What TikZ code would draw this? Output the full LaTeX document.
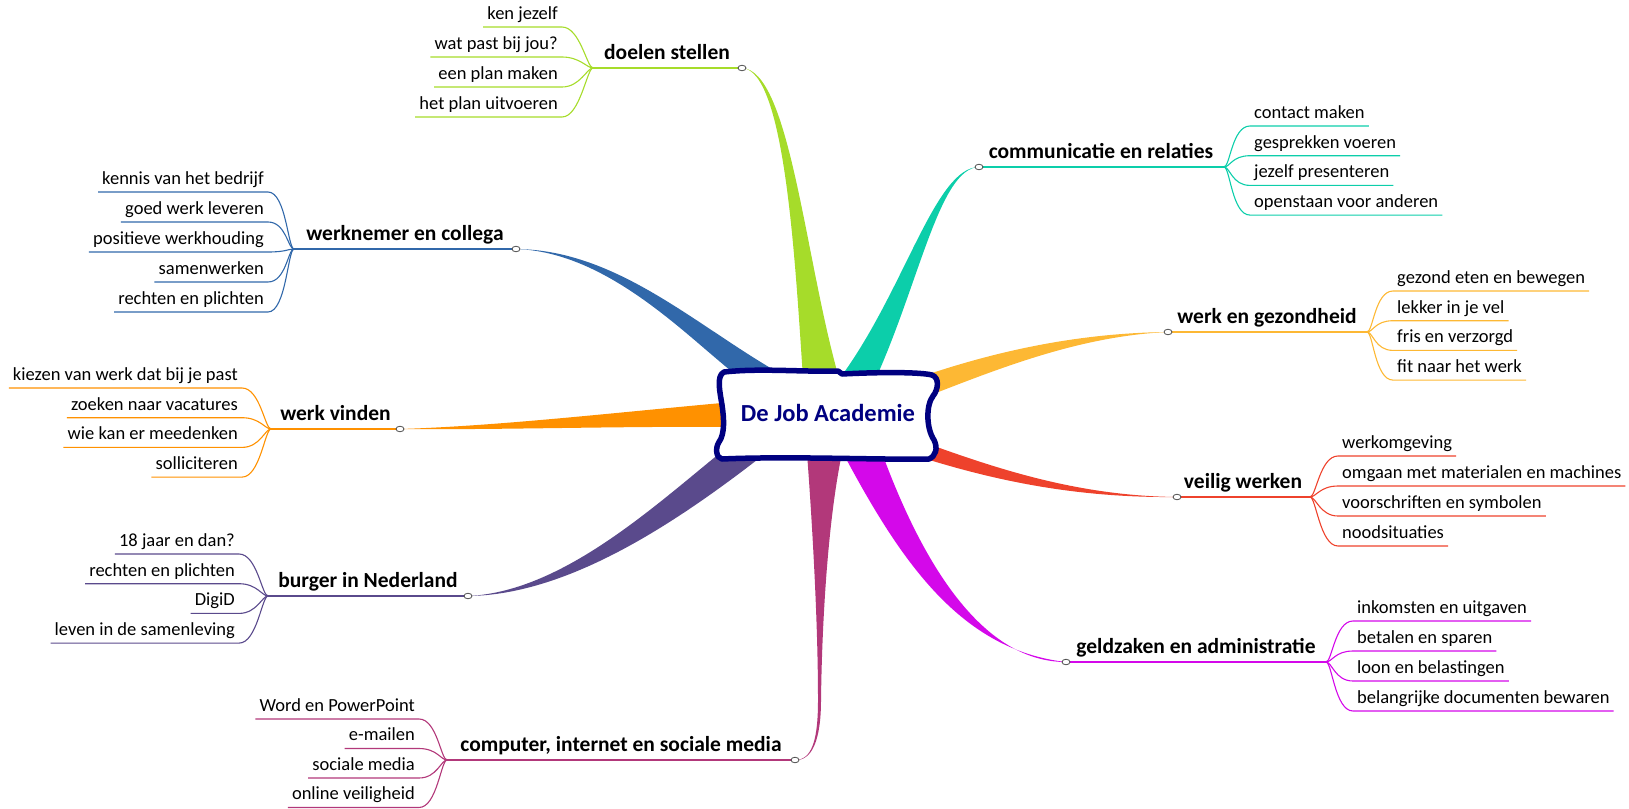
\documentclass[tikz,border=0pt]{standalone}
\usepackage{fontspec}
\setmainfont{Carlito}
\usetikzlibrary{calc,shapes.geometric}

\definecolor{doelcol}{RGB}{166,220,42}
\definecolor{commcol}{RGB}{12,206,170}
\definecolor{werkcol}{RGB}{49,104,170}
\definecolor{gezcol}{RGB}{253,184,52}
\definecolor{vindcol}{RGB}{255,145,0}
\definecolor{veilcol}{RGB}{238,66,44}
\definecolor{burgcol}{RGB}{90,74,140}
\definecolor{geldcol}{RGB}{212,8,234}
\definecolor{compcol}{RGB}{178,56,122}
\definecolor{hubcol}{RGB}{0,0,128}

\tikzset{
  twig/.style={line width=1.1pt},
  knob/.style={ellipse,draw=gray!60!black,fill=white,line width=0.8pt,minimum width=8pt,minimum height=5.5pt,inner sep=0pt},
  topic/.style={font=\fontsize{21.5}{24}\selectfont\bfseries,anchor=base,inner sep=0pt},
  leaf/.style={font=\fontsize{18.5}{20}\selectfont,text height=13pt,text depth=5pt,inner xsep=4pt,inner ysep=2.5pt},
  leafL/.style={leaf,anchor=south east},
  leafR/.style={leaf,anchor=south west},
}

\begin{document}
\begin{tikzpicture}[x=1pt,y=-1pt]
  \useasboundingbox (0,0) rectangle (1629,808);

  % centre, knobs and fan points
  \coordinate (hubpt) at (828,413);
  \coordinate (doelc) at (742,68);   \coordinate (doelj) at (593,68);
  \coordinate (commc) at (979,167);  \coordinate (commj) at (1224,167);
  \coordinate (werkc) at (516,249);  \coordinate (werkj) at (294,249);
  \coordinate (gezc) at (1168,332);  \coordinate (gezj) at (1367,332);
  \coordinate (vindc) at (400,429);  \coordinate (vindj) at (271,429);
  \coordinate (veilc) at (1177,497); \coordinate (veilj) at (1310,497);
  \coordinate (burgc) at (468,596);  \coordinate (burgj) at (268,596);
  \coordinate (geldc) at (1066,662); \coordinate (geldj) at (1326,662);
  \coordinate (compc) at (795,760);  \coordinate (compj) at (447,760);

  % tapered branches
  \fill[doelcol] (doelc) .. controls (785,70) and (795,260) .. ($(hubpt)+(-25,-35)$)
    -- ($(hubpt)+(11,-35)$) .. controls (805,260) and (790,70) .. (doelc) -- cycle;
  \fill[commcol] (commc) .. controls (935,167) and (905,290) .. ($(hubpt)+(12,-35)$)
    -- ($(hubpt)+(48,-35)$) .. controls (920,280) and (940,168) .. (commc) -- cycle;
  \fill[werkcol] (werkc) .. controls (620,250) and (700,330) .. ($(hubpt)+(-40,-35)$)
    -- ($(hubpt)+(-88,-35)$) .. controls (690,340) and (610,252) .. (werkc) -- cycle;
  \fill[gezcol] (gezc) .. controls (1080,333) and (1000,350) .. ($(hubpt)+(95,-37)$)
    -- ($(hubpt)+(95,-15)$) .. controls (1000,368) and (1080,336) .. (gezc) -- cycle;
  \fill[vindcol] (vindc) .. controls (500,426) and (620,412) .. ($(hubpt)+(-95,-11)$)
    -- ($(hubpt)+(-95,14)$) .. controls (620,426) and (500,430) .. (vindc) -- cycle;
  \fill[veilcol] (veilc) .. controls (1080,496) and (1000,470) .. ($(hubpt)+(95,29)$)
    -- ($(hubpt)+(95,45)$) .. controls (1000,482) and (1080,498) .. (veilc) -- cycle;
  \fill[burgcol] (burgc) .. controls (560,592) and (650,510) .. ($(hubpt)+(-108,40)$)
    -- ($(hubpt)+(-62,40)$) .. controls (680,520) and (570,595) .. (burgc) -- cycle;
  \fill[geldcol] (geldc) .. controls (960,650) and (900,560) .. ($(hubpt)+(15,40)$)
    -- ($(hubpt)+(54,40)$) .. controls (925,570) and (985,662) .. (geldc) -- cycle;
  \fill[compcol] (compc) .. controls (812,760) and (818,740) .. (818,700)
    .. controls (818,620) and (812,520) .. ($(hubpt)+(-21,40)$)
    -- ($(hubpt)+(14,40)$) .. controls (828,520) and (822,620) .. (821,700)
    .. controls (821,740) and (812,761) .. (compc) -- cycle;

  % stems
  \draw[twig,doelcol] (doelc) -- (doelj);
  \draw[twig,commcol] (commc) -- (commj);
  \draw[twig,werkcol] (werkc) -- (werkj);
  \draw[twig,gezcol] (gezc) -- (gezj);
  \draw[twig,vindcol] (vindc) -- (vindj);
  \draw[twig,veilcol] (veilc) -- (veilj);
  \draw[twig,burgcol] (burgc) -- (burgj);
  \draw[twig,geldcol] (geldc) -- (geldj);
  \draw[twig,compcol] (compc) -- (compj);

  % leaves
  \foreach \t [count=\i] in {ken jezelf,wat past bij jou?,een plan maken,het plan uitvoeren}{
    \node[leafL] (doel\i) at (562,{27+30*(\i-1)}) {\t};
    \draw[twig,doelcol] (doelj) .. controls +(-6,0) and +(18,0) .. (doel\i.south east) -- (doel\i.south west);
  }
  \foreach \t [count=\i] in {contact maken,gesprekken voeren,jezelf presenteren,openstaan voor anderen}{
    \node[leafR] (comm\i) at (1250,{126+29.7*(\i-1)}) {\t};
    \draw[twig,commcol] (commj) .. controls +(6,0) and +(-18,0) .. (comm\i.south west) -- (comm\i.south east);
  }
  \foreach \t [count=\i] in {kennis van het bedrijf,goed werk leveren,positieve werkhouding,samenwerken,rechten en plichten}{
    \node[leafL] (werk\i) at (268,{192+30*(\i-1)}) {\t};
    \draw[twig,werkcol] (werkj) .. controls +(-6,0) and +(18,0) .. (werk\i.south east) -- (werk\i.south west);
  }
  \foreach \t [count=\i] in {gezond eten en bewegen,lekker in je vel,fris en verzorgd,fit naar het werk}{
    \node[leafR] (gez\i) at (1393,{291+29.7*(\i-1)}) {\t};
    \draw[twig,gezcol] (gezj) .. controls +(6,0) and +(-18,0) .. (gez\i.south west) -- (gez\i.south east);
  }
  \foreach \t [count=\i] in {kiezen van werk dat bij je past,zoeken naar vacatures,wie kan er meedenken,solliciteren}{
    \node[leafL] (vind\i) at (242,{388+29.7*(\i-1)}) {\t};
    \draw[twig,vindcol] (vindj) .. controls +(-6,0) and +(18,0) .. (vind\i.south east) -- (vind\i.south west);
  }
  \foreach \t [count=\i] in {werkomgeving,omgaan met materialen en machines,voorschriften en symbolen,noodsituaties}{
    \node[leafR] (veil\i) at (1338,{456+30*(\i-1)}) {\t};
    \draw[twig,veilcol] (veilj) .. controls +(6,0) and +(-18,0) .. (veil\i.south west) -- (veil\i.south east);
  }
  \foreach \t [count=\i] in {18 jaar en dan?,rechten en plichten,DigiD,leven in de samenleving}{
    \node[leafL] (burg\i) at (239,{554+29.7*(\i-1)}) {\t};
    \draw[twig,burgcol] (burgj) .. controls +(-6,0) and +(18,0) .. (burg\i.south east) -- (burg\i.south west);
  }
  \foreach \t [count=\i] in {inkomsten en uitgaven,betalen en sparen,loon en belastingen,belangrijke documenten bewaren}{
    \node[leafR] (geld\i) at (1353,{621+30*(\i-1)}) {\t};
    \draw[twig,geldcol] (geldj) .. controls +(6,0) and +(-18,0) .. (geld\i.south west) -- (geld\i.south east);
  }
  \foreach \t [count=\i] in {Word en PowerPoint,e-mailen,sociale media,online veiligheid}{
    \node[leafL] (comp\i) at (419,{719+29.5*(\i-1)}) {\t};
    \draw[twig,compcol] (compj) .. controls +(-6,0) and +(18,0) .. (comp\i.south east) -- (comp\i.south west);
  }

  % wobbly frame
  \draw[fill=white,draw=hubcol,line width=5.5pt,line join=round]
    (724,372) .. controls (760,368) and (800,372) .. (838,371) -- (842,374)
    .. controls (880,372) and (920,372) .. (932,375)
    .. controls (940,378) and (938,390) .. (933,396)
    .. controls (926,405) and (926,428) .. (934,440)
    .. controls (938,448) and (936,456) .. (929,459)
    .. controls (880,460) and (790,456) .. (722,459)
    .. controls (716,458) and (715,448) .. (719,442)
    .. controls (725,434) and (724,418) .. (722,405)
    .. controls (720,392) and (716,376) .. (724,372) -- cycle;
  \node[font=\fontsize{24.5}{28}\selectfont\bfseries,text=hubcol] (hub) at (hubpt) {De Job Academie};

  % knobs
  \foreach \k in {doel,comm,werk,gez,vind,veil,burg,geld,comp}
    \node[knob] (\k k) at (\k c) {};

  % topics
  \node[topic] (doel) at (667,59.5) {doelen stellen};
  \node[topic] (comm) at (1101,158.5) {communicatie en relaties};
  \node[topic] (werk) at (405,240.5) {werknemer en collega};
  \node[topic] (gez) at (1267,323.5) {werk en gezondheid};
  \node[topic] (vind) at (335.5,420.5) {werk vinden};
  \node[topic] (veil) at (1243,488.5) {veilig werken};
  \node[topic] (burg) at (368,587.5) {burger in Nederland};
  \node[topic] (geld) at (1196,653.5) {geldzaken en administratie};
  \node[topic] (comp) at (621,751.5) {computer, internet en sociale media};
\end{tikzpicture}
\end{document}
